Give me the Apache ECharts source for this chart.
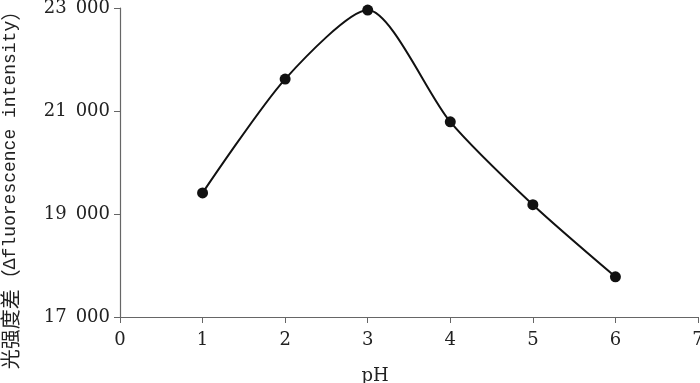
<!DOCTYPE html>
<html><head><meta charset="utf-8">
<script src="https://cdn.jsdelivr.net/npm/echarts@6/dist/echarts.min.js"></script>
<style>html,body{margin:0;padding:0;background:#fff}#c{width:700px;height:383px}</style>
</head><body><div id="c"></div>
<script>
const phValues = [1, 2, 3, 4, 5, 6];
const intensity = [19410, 21620, 22960, 20790, 19180, 17780];
const xTicks = [0, 1, 2, 3, 4, 5, 6, 7];
const yTicks = [17000, 19000, 21000, 23000];

const chart = echarts.init(document.getElementById('c'));
const fmt = v => { const s = String(Math.round(v)); return s.slice(0, s.length - 3) + '\u2002' + s.slice(-3); };
chart.setOption({
  animation: false,
  grid: { left: 120, right: 2, top: 8, bottom: 66, outerBoundsMode: 'none', containLabel: false },
  xAxis: {
    type: 'value', min: xTicks[0], max: xTicks[xTicks.length - 1], interval: 1,
    name: 'pH', nameLocation: 'middle', nameGap: 50,
    nameTextStyle: { fontFamily: 'DejaVu Serif', fontSize: 18, color: '#222', padding: [0, 68, 0, 0] },
    axisLine: { lineStyle: { color: '#666', width: 1.2 } },
    axisTick: { length: 6, lineStyle: { color: '#666' } },
    axisLabel: { fontFamily: 'DejaVu Serif', fontSize: 18, color: '#222', margin: 14 },
    splitLine: { show: false }
  },
  yAxis: {
    type: 'value', min: yTicks[0], max: yTicks[yTicks.length - 1], interval: 2000,
    name: '{cn|光强度差（}{en|Δfluorescence intensity}{cn|）}', nameLocation: 'middle', nameGap: 100, nameRotate: 90,
    nameTextStyle: {
      color: '#222', padding: [0, 45, 0, 0],
      rich: {
        cn: { fontFamily: 'Noto Sans CJK SC', fontSize: 20, color: '#222' },
        en: { fontFamily: 'Liberation Mono', fontSize: 18, color: '#222' }
      }
    },
    axisLine: { show: true, lineStyle: { color: '#666', width: 1.2 } },
    axisTick: { show: true, length: 6, lineStyle: { color: '#666' } },
    axisLabel: { fontFamily: 'DejaVu Serif', fontSize: 18, color: '#222', margin: 10, formatter: fmt },
    splitLine: { show: false }
  },
  series: [{
    type: 'line',
    data: phValues.map((x, i) => [x, intensity[i]]),
    smooth: 0.25,
    symbol: 'circle', symbolSize: 11,
    itemStyle: { color: '#111' },
    lineStyle: { color: '#111', width: 2 }
  }]
});
</script></body></html>
